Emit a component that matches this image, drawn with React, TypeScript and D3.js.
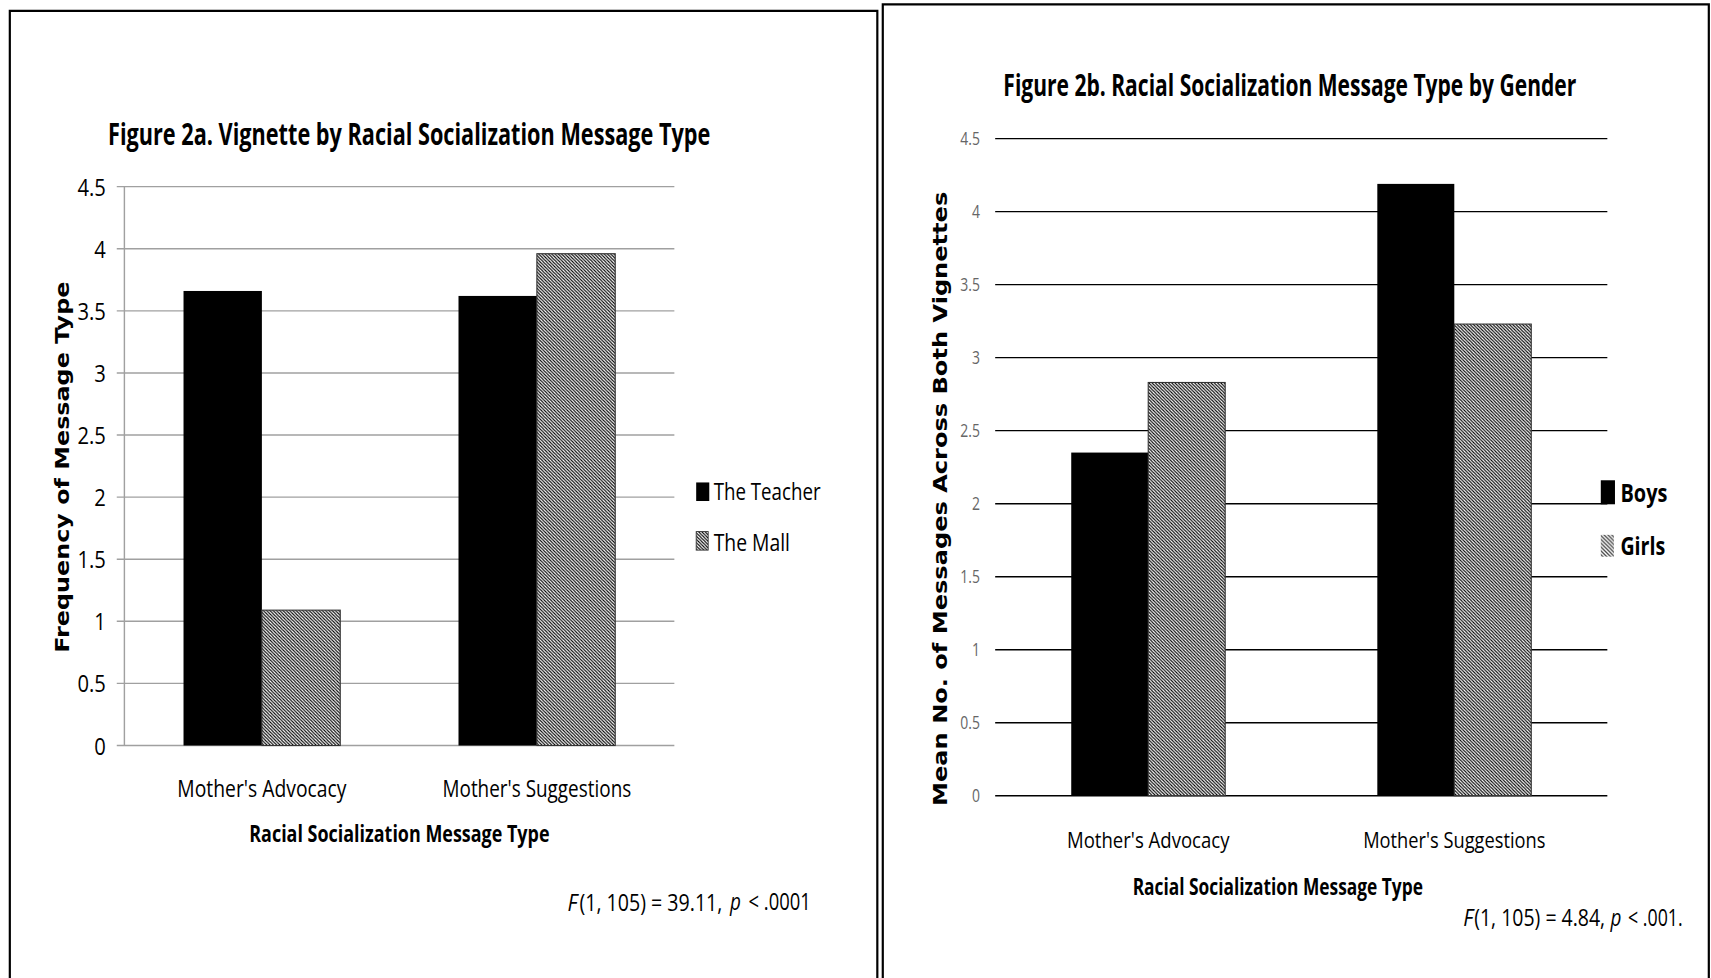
import React, { useLayoutEffect, useRef } from "react";
import * as d3 from "d3";

// ---------- data ----------
const categories = ["Mother's Advocacy", "Mother's Suggestions"];
const fig2aSeries = ["The Teacher", "The Mall"];
const teacherValues = [3.66, 3.62];
const mallValues = [1.09, 3.96];
const fig2bSeries = ["Boys", "Girls"];
const boysValues = [2.35, 4.19];
const girlsValues = [2.83, 3.23];
const yTicks = [0, 0.5, 1, 1.5, 2, 2.5, 3, 3.5, 4, 4.5];
const yTickLabels = ["0", "0.5", "1", "1.5", "2", "2.5", "3", "3.5", "4", "4.5"];

const FONT = "'Open Sans', 'Noto Sans', sans-serif";
const WIDE = "'DejaVu Sans', Verdana, sans-serif";

type Txt = {
  x: number;
  y: number;
  w: number;
  size: number;
  weight?: number;
  anchor?: "start" | "middle" | "end";
  fill?: string;
  family?: string;
  italic?: boolean;
  rotate?: boolean;
  children: React.ReactNode;
};

// Text fitted to a given width by a horizontal scale transform (measured after layout)
const T = ({ x, y, w, size, weight = 400, anchor = "middle", fill = "#000", family = FONT, italic, rotate, children }: Txt) => {
  const ref = useRef<SVGTextElement>(null);
  useLayoutEffect(() => {
    const fit = () => {
      const el = ref.current;
      if (!el) return;
      const natural = el.getComputedTextLength();
      const s = natural > 0 ? w / natural : 1;
      el.setAttribute("transform", `translate(${x},${y})${rotate ? " rotate(-90)" : ""} scale(${s},1)`);
    };
    fit();
    if ((document as any).fonts && (document as any).fonts.ready) (document as any).fonts.ready.then(fit);
  }, [x, y, w, rotate]);
  return (
    <text
      ref={ref}
      x={0}
      y={0}
      transform={`translate(${x},${y})${rotate ? " rotate(-90)" : ""}`}
      textAnchor={anchor}
      dominantBaseline="central"
      fontFamily={family}
      fontSize={size}
      fontWeight={weight}
      fontStyle={italic ? "italic" : "normal"}
      fill={fill}
    >
      {children}
    </text>
  );
};

function Fig2a() {
  const x0 = d3.scaleBand<string>().domain(categories).range([114, 618]).paddingInner(0.43).paddingOuter(0.215);
  const x1 = d3.scaleBand<string>().domain(fig2aSeries).range([0, x0.bandwidth()]).padding(0);
  const y = d3.scaleLinear().domain([0, 4.5]).range([683, 171]);
  const series = [teacherValues, mallValues];
  const fills = ["#000", "url(#hatch)"];
  return (
    <g>
      {yTicks.map((t, i) => (
        <g key={t}>
          <line x1={107} x2={618} y1={y(t)} y2={y(t)} stroke="#a0a0a0" strokeWidth={1.3} />
          <text x={97} y={y(t)} textAnchor="end" dominantBaseline="central" fontFamily={FONT} fontSize={21} fill="#000"
            transform={`translate(97,0) scale(0.88,1) translate(-97,0)`}>
            {yTickLabels[i]}
          </text>
        </g>
      ))}
      <line x1={114} x2={114} y1={y(4.5)} y2={y(0)} stroke="#a0a0a0" strokeWidth={1.3} />
      {categories.map((c, ci) =>
        fig2aSeries.map((s, si) => {
          const v = series[si][ci];
          return (
            <rect key={c + s} x={(x0(c) as number) + (x1(s) as number)} y={y(v)} width={x1.bandwidth()} height={y(0) - y(v)}
              fill={fills[si]} stroke={si === 1 ? "#333" : "none"} strokeWidth={1} />
          );
        })
      )}
      {categories.map((c, ci) => (
        <T key={c} x={(x0(c) as number) + x0.bandwidth() / 2} y={722} w={ci === 0 ? 155 : 173} size={21}>{c}</T>
      ))}
      <T x={375} y={122} w={552} size={27} weight={700}>Figure 2a. Vignette by Racial Socialization Message Type</T>
      <T x={366} y={763} w={275} size={21} weight={700}>Racial Socialization Message Type</T>
      <T x={57} y={428} w={340} size={17} weight={700} family={WIDE} rotate>Frequency of Message Type</T>
      <rect x={638} y={442} width={12} height={17} fill="#000" />
      <T x={654} y={450} w={98} size={21} anchor="start">{fig2aSeries[0]}</T>
      <rect x={638} y={487} width={11} height={17} fill="url(#hatch)" stroke="#333" strokeWidth={0.8} />
      <T x={654} y={496} w={70} size={21} anchor="start">{fig2aSeries[1]}</T>
      <T x={520} y={826} w={9} size={21} anchor="start" italic>F</T>
      <T x={531} y={826} w={131} size={21} anchor="start">(1, 105) = 39.11,</T>
      <T x={669} y={826} w={10} size={21} anchor="start" italic>p</T>
      <T x={686} y={826} w={57} size={21} anchor="start">&lt; .0001</T>
    </g>
  );
}

function Fig2b() {
  const x0 = d3.scaleBand<string>().domain(categories).range([912, 1473]).paddingInner(0.497).paddingOuter(0.2485);
  const x1 = d3.scaleBand<string>().domain(fig2bSeries).range([0, x0.bandwidth()]).padding(0);
  const y = d3.scaleLinear().domain([0, 4.5]).range([729, 127]);
  const series = [boysValues, girlsValues];
  const fills = ["#000", "url(#hatch)"];
  return (
    <g>
      {yTicks.map((t, i) => (
        <g key={t}>
          <line x1={912} x2={1473} y1={y(t)} y2={y(t)} stroke="#000" strokeWidth={1.3} />
          <text x={898} y={y(t)} textAnchor="end" dominantBaseline="central" fontFamily={FONT} fontSize={16} fill="#666"
            transform={`translate(898,0) scale(0.8,1) translate(-898,0)`}>
            {yTickLabels[i]}
          </text>
        </g>
      ))}
      {categories.map((c, ci) =>
        fig2bSeries.map((s, si) => {
          const v = series[si][ci];
          return (
            <rect key={c + s} x={(x0(c) as number) + (x1(s) as number)} y={y(v)} width={x1.bandwidth()} height={y(0) - y(v)}
              fill={fills[si]} stroke={si === 1 ? "#333" : "none"} strokeWidth={1} />
          );
        })
      )}
      {categories.map((c, ci) => (
        <T key={c} x={(x0(c) as number) + x0.bandwidth() / 2} y={769} w={ci === 0 ? 149 : 167} size={20}>{c}</T>
      ))}
      <T x={1182} y={78} w={525} size={27} weight={700}>Figure 2b. Racial Socialization Message Type by Gender</T>
      <T x={1171} y={812} w={266} size={21} weight={700}>Racial Socialization Message Type</T>
      <T x={862} y={457} w={563} size={17} weight={700} family={WIDE} rotate>Mean No. of Messages Across  Both Vignettes</T>
      <rect x={1467} y={440} width={13} height={22} fill="#000" />
      <T x={1485} y={451} w={43} size={23} weight={700} anchor="start">{fig2bSeries[0]}</T>
      <rect x={1467} y={490} width={12} height={20} fill="url(#hatch2)" />
      <T x={1485} y={500} w={41} size={23} weight={700} anchor="start">{fig2bSeries[1]}</T>
      <T x={1341} y={840} w={9} size={21} anchor="start" italic>F</T>
      <T x={1351} y={840} w={120} size={21} anchor="start">(1, 105) = 4.84,</T>
      <T x={1476} y={840} w={10} size={21} anchor="start" italic>p</T>
      <T x={1492} y={840} w={50} size={21} anchor="start">&lt; .001.</T>
    </g>
  );
}

export default function App() {
  return (
    <svg
      width={1711}
      height={978}
      viewBox="0 0 1568 896"
      preserveAspectRatio="none"
      style={{ position: "absolute", left: 0, top: 0, background: "#fff" }}
    >
      <defs>
        <pattern id="hatch" width={3} height={3} patternUnits="userSpaceOnUse">
          <rect width={3} height={3} fill="#fff" />
          <path d="M-1,-1 L4,4 M2,-1 L4,1 M-1,2 L1,4" stroke="#000" strokeWidth={1} />
        </pattern>
        <pattern id="hatch2" width={3.5} height={3.5} patternUnits="userSpaceOnUse">
          <rect width={3.5} height={3.5} fill="#fff" />
          <path d="M-1,-1 L4.5,4.5 M2.5,-1 L4.5,1 M-1,2.5 L1,4.5" stroke="#444" strokeWidth={1.2} />
        </pattern>
      </defs>
      <rect x={0} y={0} width={1568} height={896} fill="#fff" />
      <path d="M9,900 L9,10 L804,10 L804,900" fill="none" stroke="#000" strokeWidth={2} />
      <path d="M809,900 L809,4 L1566,4 L1566,900" fill="none" stroke="#000" strokeWidth={2} />
      <Fig2a />
      <Fig2b />
    </svg>
  );
}
